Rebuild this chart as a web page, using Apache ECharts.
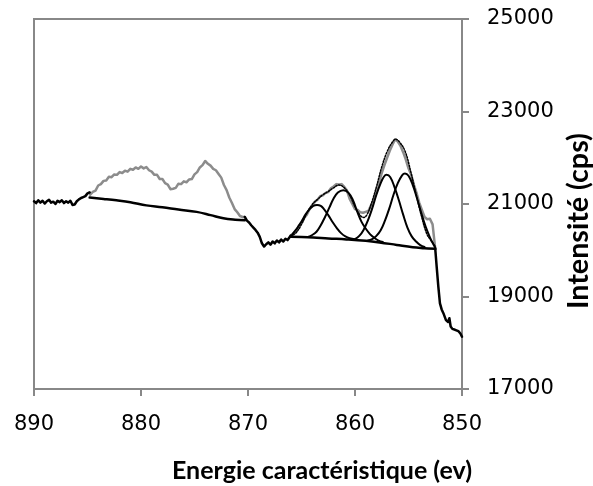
<!DOCTYPE html>
<html><head><meta charset="utf-8">
<script src="https://cdn.jsdelivr.net/npm/echarts@6/dist/echarts.min.js"></script>
<style>html,body{margin:0;padding:0;background:#fff}#c{width:593px;height:486px}</style>
</head><body><div id="c"></div>
<script>
// ---- data ----
const xTitle = 'Energie caractéristique (ev)';
const yTitle = 'Intensité (cps)';
const xMin = 850, xMax = 890, xStep = 10;
const yMin = 17000, yMax = 25000, yStep = 2000;

// raw spectrum, black segments (outside fit windows)
const rawLeft = [[890.0,21060],[889.8,21020],[889.6,21080],[889.4,21030],[889.2,21070],[889.0,21010],[888.8,21060],[888.6,21090],[888.4,21030],[888.2,21050],[888.0,21000],[887.8,21070],[887.6,21040],[887.4,21080],[887.2,21020],[887.0,21060],[886.8,21030],[886.6,21070],[886.4,20980],[886.2,20990],[886.0,21060],[885.8,21100],[885.6,21130],[885.4,21150],[885.2,21170],[885.0,21230],[884.8,21250]];
const rawMid = [[870.3,20720],[870.1,20640],[869.9,20600],[869.7,20540],[869.5,20490],[869.3,20440],[869.1,20380],[868.9,20290],[868.7,20150],[868.5,20080],[868.3,20130],[868.1,20170],[867.9,20120],[867.7,20190],[867.5,20150],[867.3,20210],[867.1,20170],[866.9,20230],[866.7,20190],[866.5,20250],[866.3,20220],[866.0,20320]];
const rawRight = [[852.5,20030],[852.37,19650],[852.21,19210],[852.06,18850],[851.9,18720],[851.74,18640],[851.5,18490],[851.3,18450],[851.18,18530],[851.06,18350],[850.9,18300],[850.65,18280],[850.34,18250],[850.15,18200],[850.0,18130]];

// raw spectrum, grey segments (fit windows)
const rawSat = [[884.8,21250],[884.75,21200],[884.5,21260],[884.25,21290],[884.0,21400],[883.75,21430],[883.5,21500],[883.25,21510],[883.0,21590],[882.75,21580],[882.5,21640],[882.25,21630],[882.0,21690],[881.75,21670],[881.5,21720],[881.25,21700],[881.0,21760],[880.75,21740],[880.5,21790],[880.25,21760],[880.0,21810],[879.75,21770],[879.5,21800],[879.25,21730],[879.0,21700],[878.75,21630],[878.5,21630],[878.25,21540],[878.0,21540],[877.75,21450],[877.5,21420],[877.25,21320],[877.0,21330],[876.75,21350],[876.5,21440],[876.25,21430],[876.0,21490],[875.75,21470],[875.5,21530],[875.25,21540],[875.0,21640],[874.75,21690],[874.5,21790],[874.25,21840],[874.0,21930],[873.75,21870],[873.5,21830],[873.25,21760],[873.0,21730],[872.75,21650],[872.5,21570],[872.25,21410],[872.0,21300],[871.75,21140],[871.5,21020],[871.25,20890],[871.0,20820],[870.75,20740],[870.5,20720],[870.3,20720]];
const rawMain = [[866.0,20320],[865.75,20370],[865.5,20410],[865.25,20530],[865.0,20590],[864.75,20700],[864.5,20770],[864.25,20890],[864.0,20950],[863.75,21050],[863.5,21090],[863.25,21170],[863.0,21190],[862.75,21240],[862.5,21260],[862.25,21340],[862.0,21380],[861.75,21430],[861.5,21420],[861.25,21430],[861.0,21370],[860.75,21290],[860.5,21110],[860.25,21000],[860.0,20890],[859.75,20870],[859.5,20820],[859.25,20810],[859.0,20830],[858.75,20850],[858.5,20970],[858.25,21090],[858.0,21300],[857.75,21460],[857.5,21670],[857.25,21840],[857.0,22000],[856.75,22150],[856.5,22280],[856.25,22400],[856.0,22350],[855.75,22260],[855.5,22120],[855.25,21960],[855.0,21770],[854.75,21630],[854.5,21420],[854.25,21240],[854.0,21030],[853.75,20870],[853.5,20720],[853.25,20670],[853.0,20680],[852.75,20560],[852.5,20030]];

// Shirley backgrounds
const bgSat = [[884.8,21140],[883.5,21110],[882.3,21080],[881.0,21040],[879.5,20970],[878.0,20930],[876.5,20880],[874.8,20830],[873.5,20760],[872.3,20690],[871.2,20660],[870.3,20650]];
const bgMain = [[866.0,20290],[865.0,20285],[863.9,20275],[862.5,20255],[860.8,20235],[859.0,20205],[857.7,20170],[856.1,20115],[854.6,20065],[853.5,20045],[852.5,20030]];

// fitted components
const peak1 = [[866.0,20290],[865.8,20360],[865.4,20480],[865.0,20620],[864.6,20780],[864.2,20900],[863.9,20960],[863.55,20980],[863.2,20960],[862.9,20890],[862.5,20760],[862.1,20610],[861.7,20480],[861.3,20370],[860.9,20300],[860.5,20260],[860.0,20240]];
const peak2 = [[864.4,20290],[864.0,20330],[863.6,20400],[863.2,20540],[862.8,20720],[862.4,20920],[862.0,21120],[861.6,21250],[861.1,21300],[860.6,21240],[860.2,21090],[859.8,20840],[859.4,20620],[859.0,20470],[858.6,20350],[858.2,20270],[857.8,20210],[857.4,20180]];
const peak3 = [[860.0,20240],[859.6,20310],[859.2,20440],[858.8,20640],[858.4,20900],[858.0,21200],[857.6,21450],[857.3,21590],[857.04,21630],[856.7,21580],[856.3,21360],[855.9,21080],[855.5,20770],[855.1,20490],[854.7,20300],[854.3,20190],[853.9,20110],[853.5,20070]];
const peak4 = [[858.8,20210],[858.4,20240],[858.0,20310],[857.6,20430],[857.2,20640],[856.8,20900],[856.4,21200],[856.0,21450],[855.6,21620],[855.33,21660],[855.0,21610],[854.6,21410],[854.2,21120],[853.8,20800],[853.4,20510],[853.0,20280],[852.7,20140],[852.5,20060]];
const envelope = [[866.0,20300],[865.5,20380],[865.0,20560],[864.5,20800],[864.0,20990],[863.5,21100],[863.0,21200],[862.5,21270],[862.0,21350],[861.5,21410],[861.0,21350],[860.5,21190],[860.0,20940],[859.5,20750],[859.2,20710],[858.9,20760],[858.5,20990],[858.0,21370],[857.5,21800],[857.0,22130],[856.5,22340],[856.2,22400],[855.8,22330],[855.3,22130],[854.8,21710],[854.3,21220],[853.8,20750],[853.3,20360],[852.9,20210],[852.5,20080]];

// ---- chart ----
function fitFont(text, family, weight, target) {
  const ctx = document.createElement('canvas').getContext('2d');
  ctx.font = weight + ' 20px "' + family + '"';
  return 20 * target / ctx.measureText(text).width;
}
const tickFont = 'DejaVu Sans';
const titleFont = 'Lato';
const xTitleSize = fitFont(xTitle, titleFont, 'bold', 300);
const yTitleSize = fitFont(yTitle, titleFont, 'bold', 176);

const axisGray = '#888888';
const lineGray = '#8c8c8c';
function line(data, color, width, type, z) {
  return { type: 'line', data: data, showSymbol: false, symbol: 'none', smooth: false,
    lineStyle: { color: color, width: width, type: type || 'solid', join: 'round', cap: 'round' }, z: z || 2, silent: true };
}
function smoothLine(data, color, width, type, z) {
  const s = line(data, color, width, type, z); s.smooth = 0.4; return s;
}

const chart = echarts.init(document.getElementById('c'), null, { renderer: 'canvas' });
chart.setOption({
  animation: false,
  backgroundColor: '#ffffff',
  grid: { left: 34, right: 131, top: 19, bottom: 97, containLabel: false, outerBoundsMode: 'none',
    show: true, borderColor: axisGray, borderWidth: 2 },
  xAxis: {
    type: 'value', min: xMin, max: xMax, interval: xStep, inverse: true,
    axisLine: { show: true, onZero: false, lineStyle: { color: axisGray, width: 2 } },
    axisTick: { show: true, inside: false, length: 7, lineStyle: { color: axisGray, width: 2 } },
    axisLabel: { margin: 25, color: '#000', fontSize: 21, fontFamily: tickFont, formatter: v => String(v) },
    splitLine: { show: false }
  },
  yAxis: {
    type: 'value', position: 'right', min: yMin, max: yMax, interval: yStep,
    axisLine: { show: true, onZero: false, lineStyle: { color: axisGray, width: 2 } },
    axisTick: { show: true, inside: false, length: 7, lineStyle: { color: axisGray, width: 2 } },
    axisLabel: { margin: 25, color: '#000', fontSize: 21, fontFamily: tickFont, align: 'left', formatter: v => String(v) },
    splitLine: { show: false }
  },
  graphic: [
    { type: 'text', x: 322, y: 471, style: { text: xTitle, x: 0, y: 0, align: 'center', verticalAlign: 'middle',
      font: 'bold ' + xTitleSize.toFixed(2) + 'px "' + titleFont + '"', fill: '#000' } },
    { type: 'text', x: 579, y: 221, rotation: Math.PI / 2, style: { text: yTitle, x: 0, y: 0, align: 'center', verticalAlign: 'middle',
      font: 'bold ' + yTitleSize.toFixed(2) + 'px "' + titleFont + '"', fill: '#000' } }
  ],
  series: [
    line(rawSat, lineGray, 2.5, 'solid', 2),
    line(rawMain, lineGray, 2.5, 'solid', 2),
    smoothLine(envelope, '#000', 1.5, 'dotted', 3),
    line(rawLeft, '#000', 2.5, 'solid', 4),
    line(rawMid, '#000', 2.5, 'solid', 4),
    line(rawRight, '#000', 2.5, 'solid', 4),
    smoothLine(bgSat, '#000', 2.5, 'solid', 4),
    smoothLine(bgMain, '#000', 2.5, 'solid', 4),
    smoothLine(peak1, '#000', 2, 'solid', 5),
    smoothLine(peak2, '#000', 2, 'solid', 5),
    smoothLine(peak3, '#000', 2, 'solid', 5),
    smoothLine(peak4, '#000', 2, 'solid', 5)
  ]
});
</script>
</body></html>
